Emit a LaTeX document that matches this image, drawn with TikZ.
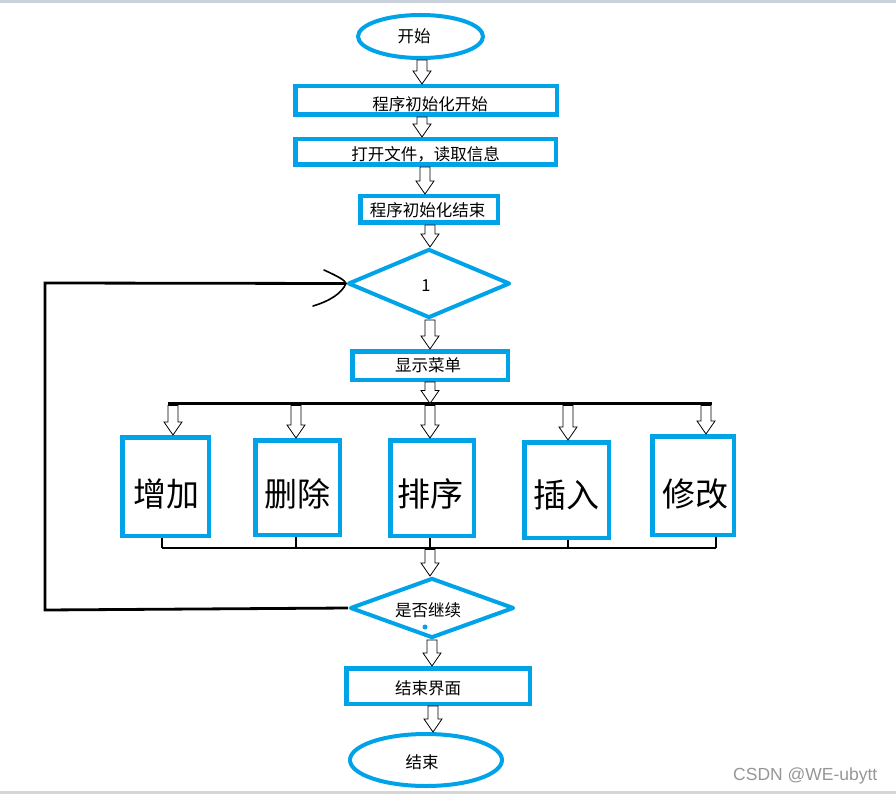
\documentclass[tikz,border=0pt]{standalone}
\usepackage{fontspec}
\newfontfamily\cjk{Noto Sans CJK SC}
\newfontfamily\wmfont{Liberation Sans}
\usetikzlibrary{shapes.geometric,calc}
\definecolor{pblue}{RGB}{0,162,232}
\definecolor{topband}{RGB}{200,208,220}
\definecolor{botband}{RGB}{214,214,214}
\definecolor{wmgray}{RGB}{150,150,150}
\tikzset{
  bluebox/.style={rectangle, draw=pblue, line width=4.5pt, inner sep=0pt},
  oval/.style={ellipse, draw=pblue, line width=4pt, inner sep=0pt},
  decision/.style={diamond, draw=pblue, line width=4pt, inner sep=0pt, line join=round},
  lbl/.style={inner sep=0pt, text=black, font=\cjk\fontsize{16.5}{18}\selectfont},
  biglbl/.style={inner sep=0pt, text=black, font=\cjk\fontsize{33}{36}\selectfont},
  barline/.style={draw=black, line width=2.8pt},
  stubline/.style={draw=black, line width=2pt},
  hollowarrow/.style={draw=black, line width=0.8pt, fill=white, line join=miter,
    to path={let \p1=(\tikztostart), \p2=(\tikztotarget) in
      (\x1-5pt,\y1) -- (\x1+5pt,\y1) -- (\x1+5pt,\y2+13pt) -- (\x1+9pt,\y2+13pt)
      -- (\x1,\y2) -- (\x1-9pt,\y2+13pt) -- (\x1-5pt,\y2+13pt) -- cycle}},
}
\begin{document}
\begin{tikzpicture}[x=1pt,y=-1pt]
\useasboundingbox (0,0) rectangle (896,794);
\fill[topband] (0,0) rectangle (896,3);
\fill[botband] (0,791) rectangle (896,794);

% shapes
\node[oval, minimum width=125pt, minimum height=43pt] (start) at (420.5,36.5) {};
\node[lbl] (tstart) at (414,36) {开始};
\node[bluebox, minimum width=261.5pt, minimum height=28.5pt] (init) at (426,100.5) {};
\node[lbl] (tinit) at (430,104) {程序初始化开始};
\node[bluebox, minimum width=260.5pt, minimum height=25.5pt] (read) at (425.5,152) {};
\node[lbl] (tread) at (425.5,154) {打开文件，读取信息};
\node[bluebox, minimum width=137.5pt, minimum height=26.5pt] (initend) at (429,209.5) {};
\node[lbl] (tinitend) at (427.5,210) {程序初始化结束};
\node[decision, minimum width=162pt, minimum height=69pt] (loop) at (429,283.5) {};
\node[lbl] (tloop) at (426,286) {1};
\node[bluebox, minimum width=155.5pt, minimum height=28.5pt] (menu) at (430,365.5) {};
\node[lbl] (tmenu) at (428,365) {显示菜单};

\node[bluebox, minimum width=86.5pt, minimum height=98.5pt] (add) at (165.5,486.5) {};
\node[biglbl] (tadd) at (166.5,494) {增加};
\node[bluebox, minimum width=84.5pt, minimum height=94.5pt] (del) at (297.5,487.5) {};
\node[biglbl] (tdel) at (297.5,494) {删除};
\node[bluebox, minimum width=83.5pt, minimum height=95.5pt] (sort) at (432,488) {};
\node[biglbl] (tsort) at (430,494) {排序};
\node[bluebox, minimum width=84.5pt, minimum height=95.5pt] (ins) at (566.5,490) {};
\node[biglbl] (tins) at (566.5,495) {插入};
\node[bluebox, minimum width=81.5pt, minimum height=98.5pt] (mod) at (693,485.5) {};
\node[biglbl] (tmod) at (695,494) {修改};

\node[decision, minimum width=164pt, minimum height=60pt] (cont) at (432,608) {};
\node[lbl] (tcont) at (428,610) {是否继续};
\node[circle, fill=pblue, inner sep=0pt, minimum size=5pt] (dot) at (425,627) {};
\node[bluebox, minimum width=183.5pt, minimum height=35.5pt] (endui) at (438,686) {};
\node[lbl] (tendui) at (428,688) {结束界面};
\node[oval, minimum width=152pt, minimum height=52pt] (stop) at (426,760) {};
\node[lbl] (tstop) at (422,762) {结束};

% bars and loop
\coordinate (tbL) at (168,403.5);
\coordinate (tbR) at (712,403.5);
\coordinate (tbB) at (0,405.5);
\coordinate (bbL) at (162,548);
\coordinate (bbR) at (716,548);
\coordinate (bbB) at (430,549.5);
\coordinate (lpT) at (45,283);
\coordinate (lpB) at (45,610);

\draw[barline] (tbL) -- (tbR);
\draw[barline] (bbL) -- (bbR);
\draw[stubline] (add.south -| bbL) -- (bbL);
\draw[stubline] (del.south -| 296,0) -- (bbL -| 296,0);
\draw[stubline] (sort.south -| 430,0) -- (bbL -| 430,0);
\draw[stubline] (ins.south -| 568,0) -- (bbL -| 568,0);
\draw[stubline] (mod.south -| bbR) -- (bbR);

\draw[barline, line join=miter] (cont.west) -- (lpB) -- (lpT) -- (loop.west);
\draw[line width=1.6pt, line cap=round] (324,270) .. controls (337,276) and (345,280) .. (loop.west)
  .. controls (342,293) and (330,301) .. (313,306);

% hollow arrows
\draw[hollowarrow] (start.south -| 422,0) to (init.north);
\draw[hollowarrow] (init.south -| 422,0) to (read.north);
\draw[hollowarrow] (read.south -| 425,0) to (initend.north);
\draw[hollowarrow] (initend.south -| 430,0) to (loop.north);
\draw[hollowarrow] (loop.south -| 430,0) to (menu.north);
\draw[hollowarrow] (menu.south -| 430,0) to (tbL -| 430,0);
\draw[hollowarrow] (tbB -| 173,0) to (add.north);
\draw[hollowarrow] (tbB -| 296,0) to (del.north);
\draw[hollowarrow] (tbB -| 430,0) to (sort.north);
\draw[hollowarrow] (tbB -| 568,0) to (ins.north);
\draw[hollowarrow] (tbB -| 706,0) to (mod.north);
\draw[hollowarrow] (bbB) to (cont.north);
\draw[hollowarrow] (cont.south -| 432,0) to (endui.north);
\draw[hollowarrow] (endui.south -| 433,0) to (stop.north);

% watermark
\node[anchor=base west, inner sep=0pt, text=wmgray, font=\wmfont\fontsize{17.5}{18}\selectfont] (wm) at (733,780.5) {CSDN @WE-ubytt};
\end{tikzpicture}
\end{document}
